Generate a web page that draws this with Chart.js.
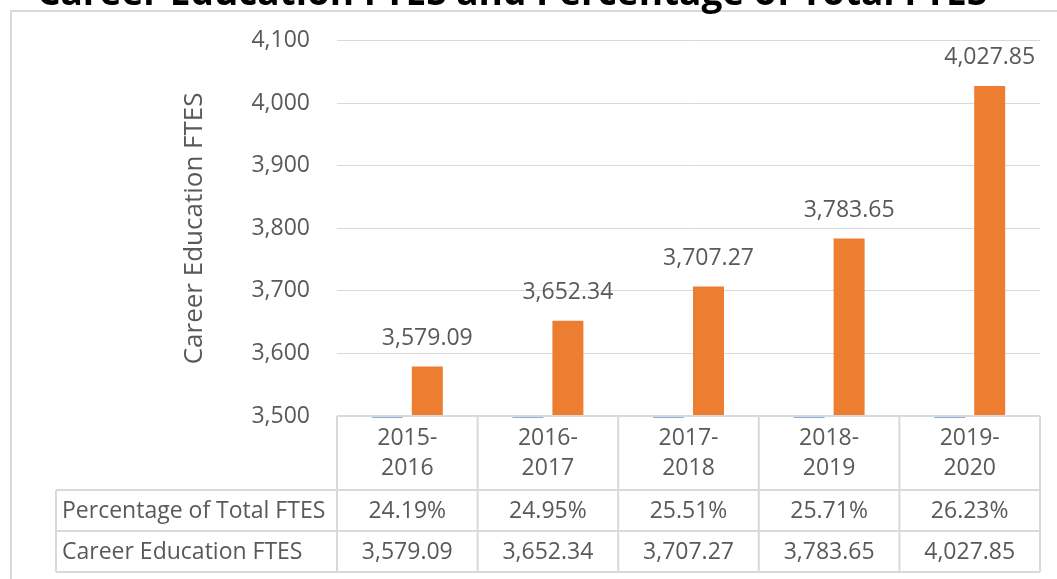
<!DOCTYPE html>
<html><head><meta charset="utf-8">
<script src="https://cdn.jsdelivr.net/npm/chart.js@4"></script>
<style>html,body{margin:0;padding:0;background:#fff}#wrap{width:1057px;height:579px;position:relative;overflow:hidden}</style>
</head><body><div id="wrap"><canvas id="c" width="1057" height="579"></canvas></div>
<script>
const categories = [["2015-","2016"],["2016-","2017"],["2017-","2018"],["2018-","2019"],["2019-","2020"]];
const percentOfTotal = [24.19, 24.95, 25.51, 25.71, 26.23];
const careerFTES = [3579.09, 3652.34, 3707.27, 3783.65, 4027.85];
const yTickValues = [3500, 3600, 3700, 3800, 3900, 4000, 4100];
const seriesNames = ["Percentage of Total FTES", "Career Education FTES"];
const titleText = "Career Education FTES and Percentage of Total FTES";
const axisTitle = "Career Education FTES";

const TXT = '#595959', GRID = '#D9D9D9', FONT = 'Open Sans';
const FS = 23;
const fmt2 = v => v.toLocaleString('en-US', {minimumFractionDigits: 2, maximumFractionDigits: 2});

const framePlugin = {
  id: 'frame',
  beforeDraw(chart) {
    const ctx = chart.ctx;
    ctx.save();
    ctx.fillStyle = '#fff';
    ctx.fillRect(0, 0, chart.width, chart.height);
    ctx.strokeStyle = GRID; ctx.lineWidth = 2;
    ctx.strokeRect(11, 11, 1200, 800);
    ctx.fillStyle = '#000';
    ctx.font = 'bold 37px "' + FONT + '"';
    ctx.textAlign = 'center'; ctx.textBaseline = 'alphabetic';
    ctx.fillText(titleText, 512, 5);
    ctx.restore();
  }
};

const overlayPlugin = {
  id: 'overlay',
  afterDatasetsDraw(chart) {
    const ctx = chart.ctx, area = chart.chartArea;
    ctx.save();
    const m0 = chart.getDatasetMeta(0);
    ctx.strokeStyle = chart.data.datasets[0].backgroundColor; ctx.lineWidth = 1.5;
    m0.data.forEach(el => {
      ctx.beginPath();
      ctx.moveTo(el.x - el.width / 2, area.bottom + 1);
      ctx.lineTo(el.x + el.width / 2, area.bottom + 1);
      ctx.stroke();
    });
    const m1 = chart.getDatasetMeta(1);
    ctx.fillStyle = TXT; ctx.font = FS + 'px "' + FONT + '"';
    ctx.textAlign = 'center'; ctx.textBaseline = 'middle';
    m1.data.forEach((el, i) => {
      ctx.fillText(fmt2(careerFTES[i]), el.x, el.y - 28);
    });
    ctx.restore();
  },
  afterDraw(chart) {
    const ctx = chart.ctx, area = chart.chartArea, xs = chart.scales.x;
    const n = categories.length;
    const cw = (area.right - area.left) / n;
    const bounds = [];
    for (let i = 0; i < n; i++) bounds.push(xs.getPixelForValue(i) - cw / 2);
    bounds.push(xs.getPixelForValue(n - 1) + cw / 2);
    const top = area.bottom, r1 = 490, r2 = 531, r3 = 572, legL = 56;
    ctx.save();
    ctx.strokeStyle = GRID; ctx.lineWidth = 2;
    ctx.beginPath();
    bounds.forEach(b => { ctx.moveTo(b, top); ctx.lineTo(b, r3); });
    ctx.moveTo(bounds[0], top); ctx.lineTo(bounds[n], top);
    [r1, r2, r3].forEach(y => { ctx.moveTo(legL, y); ctx.lineTo(bounds[n], y); });
    ctx.moveTo(legL, r1); ctx.lineTo(legL, r3);
    ctx.stroke();
    ctx.fillStyle = TXT; ctx.font = FS + 'px "' + FONT + '"';
    ctx.textBaseline = 'middle'; ctx.textAlign = 'center';
    for (let i = 0; i < n; i++) {
      const cx = xs.getPixelForValue(i);
      ctx.fillText(categories[i][0], cx, 438);
      ctx.fillText(categories[i][1], cx, 468);
      ctx.fillText(percentOfTotal[i].toFixed(2) + '%', cx, (r1 + r2) / 2 + 1);
      ctx.fillText(fmt2(careerFTES[i]), cx, (r2 + r3) / 2 + 1);
    }
    ctx.textAlign = 'left';
    ctx.fillText(seriesNames[0], legL + 6, (r1 + r2) / 2 + 1);
    ctx.fillText(seriesNames[1], legL + 6, (r2 + r3) / 2 + 1);
    ctx.restore();
  }
};

new Chart(document.getElementById('c'), {
  type: 'bar',
  data: {
    labels: categories.map(c => c.join('')),
    datasets: [
      {label: seriesNames[0], data: percentOfTotal, backgroundColor: '#5B9BD5', categoryPercentage: 0.569, barPercentage: 0.775},
      {label: seriesNames[1], data: careerFTES, backgroundColor: '#ED7D31', categoryPercentage: 0.569, barPercentage: 0.775}
    ]
  },
  options: {
    responsive: false, animation: false,
    layout: {padding: {left: 0, top: 40, right: 17, bottom: 163}},
    plugins: {legend: {display: false}, tooltip: {enabled: false}},
    scales: {
      x: {display: false, offset: true, grid: {display: false}},
      y: {
        min: 3500, max: 4100,
        afterFit(s) { s.width = 337; },
        afterBuildTicks(s) { s.ticks = yTickValues.map(v => ({value: v})); },
        ticks: {padding: 27, color: TXT, font: {family: FONT, size: FS}, callback: v => v.toLocaleString('en-US')},
        grid: {color: GRID, drawTicks: false, lineWidth: 1},
        border: {display: false},
        title: {display: true, text: axisTitle, color: TXT, font: {family: FONT, size: 26}, padding: {top: 179, bottom: 0}}
      }
    }
  },
  plugins: [framePlugin, overlayPlugin]
});
</script></body></html>
